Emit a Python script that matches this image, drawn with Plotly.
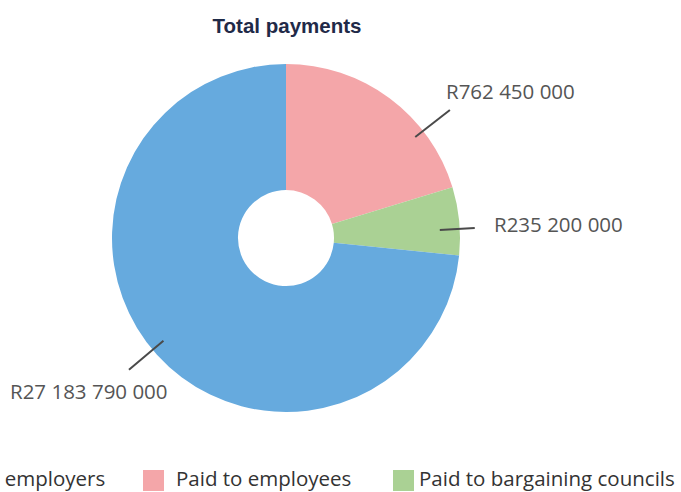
import math
import plotly.graph_objects as go

# slice shares (percent of the circle)
groups = ["Paid to employees", "Paid to bargaining councils", "Paid to employers"]
shares = [20.3, 6.3, 73.4]
amounts = ["R762 450 000", "R235 200 000", "R27 183 790 000"]
colors = ["#F4A6A9", "#AAD194", "#66AADE"]

W, H = 681, 492
cx, cy, rad = 286, 238, 174

def px(x):
    return x / W

def py(y):
    return 1 - y / H

fig = go.Figure()
fig.add_trace(
    go.Pie(
        labels=groups,
        values=shares,
        sort=False,
        direction="clockwise",
        rotation=0,
        hole=0.276,
        marker=dict(colors=colors, line=dict(width=0)),
        textinfo="none",
        hoverinfo="label",
        showlegend=False,
        domain=dict(x=[px(cx - rad), px(cx + rad)], y=[py(cy + rad), py(cy - rad)]),
    )
)

# leader lines (angle from 12 o'clock, inner and outer radius in px)
leaders = [(52, 164, 208), (87, 154, 189), (230, 160, 205)]
# label text anchor in px (left/centre, cap middle)
label_pos = [(444, 91, "left"), (492, 224, "left"), (89, 391, "center")]

shapes = []
annots = []
for i in range(len(amounts)):
    ang, r1, r2 = leaders[i]
    a = math.radians(ang)
    x1, y1 = cx + r1 * math.sin(a), cy - r1 * math.cos(a)
    x2, y2 = cx + r2 * math.sin(a), cy - r2 * math.cos(a)
    shapes.append(dict(type="line", xref="paper", yref="paper",
                       x0=px(x1), y0=py(y1), x1=px(x2), y1=py(y2),
                       line=dict(color="#4a4a4a", width=2)))
    lx, ly, anc = label_pos[i]
    annots.append(dict(text=amounts[i], xref="paper", yref="paper",
                       x=px(lx), y=py(ly), xanchor=anc, yanchor="middle",
                       showarrow=False,
                       font=dict(family="Open Sans", size=20.5, color="#555555")))

# legend along the bottom, running off the left edge like the source
leg_order = [2, 0, 1]
leg_x = [-101, 143, 393]
leg_gap = [32, 31, 24]
for k, i in enumerate(leg_order):
    x0 = leg_x[k]
    shapes.append(dict(type="rect", xref="paper", yref="paper",
                       x0=px(x0), x1=px(x0 + 21), y0=py(491), y1=py(470),
                       fillcolor=colors[i], line=dict(width=0)))
    annots.append(dict(text=groups[i], xref="paper", yref="paper",
                       x=px(x0 + leg_gap[k]), y=py(478), xanchor="left", yanchor="middle",
                       showarrow=False,
                       font=dict(family="Open Sans", size=20.5, color="#333333")))

fig.update_layout(
    width=W,
    height=H,
    margin=dict(l=0, r=0, t=0, b=0),
    paper_bgcolor="white",
    plot_bgcolor="white",
    title=dict(text="<b>Total payments</b>", x=px(287), xanchor="center",
               y=py(26), yanchor="middle",
               font=dict(family="Liberation Sans", size=20.5, color="#1F2A48")),
    shapes=shapes,
    annotations=annots,
)
fig.write_html("out.html", config={"displayModeBar": False},
               post_script="document.body.style.margin='0';")
